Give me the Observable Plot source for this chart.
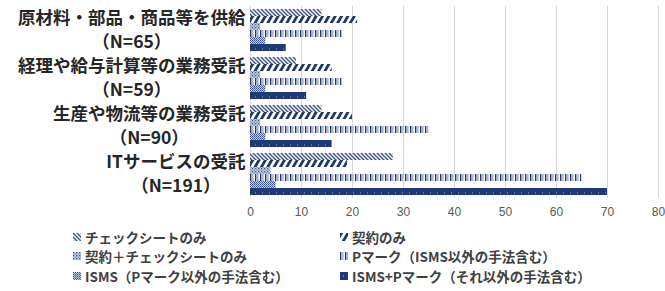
<!DOCTYPE html>
<html><head><meta charset="utf-8">
<script src="https://cdn.jsdelivr.net/npm/d3@7"></script>
<script src="https://cdn.jsdelivr.net/npm/@observablehq/plot@0.6"></script>
<style>
body{margin:0;background:#fff;font-family:"Noto Sans CJK JP","Liberation Sans",sans-serif;}
#wrap{position:relative;width:665px;height:291px;overflow:hidden;}
#legend{position:absolute;left:73px;top:227px;display:grid;grid-template-columns:267px 320px;grid-auto-rows:19.5px;font-size:13.5px;font-weight:bold;color:#404040;}
.item{display:flex;align-items:center;white-space:nowrap;}
.item svg{margin-right:4px;flex:none;}
</style>
</head><body>
<svg width="0" height="0" style="position:absolute">
<defs>
<pattern id="p0" width="4" height="4" patternUnits="userSpaceOnUse">
<rect width="4" height="4" fill="#fff"/>
<path d="M-1,-1 L5,5 M-1,3 L1,5 M3,-1 L5,1" stroke="#3a5192" stroke-width="1.4"/>
</pattern>
<pattern id="p1" width="5.5" height="6" patternUnits="userSpaceOnUse" patternTransform="rotate(30)">
<rect width="5.5" height="6" fill="#fff"/><rect width="2.8" height="6" fill="#1f3864"/>
</pattern>
<pattern id="p2" width="3" height="3" patternUnits="userSpaceOnUse">
<rect width="3" height="3" fill="#c9d1e6"/>
<rect x="0" y="0" width="1.3" height="1.3" fill="#3a5192"/>
<rect x="1.5" y="1.5" width="1.3" height="1.3" fill="#6b7fb5"/>
</pattern>
<pattern id="p3" width="5" height="4" patternUnits="userSpaceOnUse">
<rect width="5" height="4" fill="#fff"/>
<rect x="0" width="1.4" height="4" fill="#1f3864"/>
<rect x="2.4" width="1" height="4" fill="#7383b8"/>
</pattern>
<pattern id="p4" width="2" height="2" patternUnits="userSpaceOnUse">
<rect width="2" height="2" fill="#c3cbe0"/>
<rect width="1" height="1" fill="#3a5192"/>
<rect x="1" y="1" width="1" height="1" fill="#5a6ea6"/>
</pattern>
<pattern id="p5" width="7" height="7.5" patternUnits="userSpaceOnUse">
<rect width="7" height="7.5" fill="#1f3877"/>
<rect x="3" y="3.3" width="1" height="1" fill="#a8b6dc"/>
</pattern>
</defs>
</svg>
<div id="wrap"><div id="chart"></div><div id="legend"></div></div>
<script>
const categories = ["原材料・部品・商品等を供給", "経理や給与計算等の業務受託", "生産や物流等の業務受託", "ITサービスの受託"];
const nLabels = ["（N=65）", "（N=59）", "（N=90）", "（N=191）"];
const series = ["チェックシートのみ", "契約のみ", "契約＋チェックシートのみ", "Pマーク（ISMS以外の手法含む）", "ISMS（Pマーク以外の手法含む）", "ISMS+Pマーク（それ以外の手法含む）"];
const checkOnly     = [14, 9, 14, 28];
const contractOnly  = [21, 16, 20, 19];
const contractCheck = [2, 2, 2, 4];
const pmark         = [18, 18, 35, 65];
const isms          = [3, 3, 3, 5];
const ismsP         = [7, 11, 16, 70];
const xTicks = [0, 10, 20, 30, 40, 50, 60, 70, 80];

const seriesValues = [checkOnly, contractOnly, contractCheck, pmark, isms, ismsP];
const patterns = ["url(#p0)", "url(#p1)", "url(#p2)", "url(#p3)", "url(#p4)", "url(#p5)"];

const labelFont = "bold 17.5px 'Noto Sans CJK JP'";
const ctx = document.createElement("canvas").getContext("2d");
ctx.font = labelFont;

const barMarks = series.map((s, si) =>
  Plot.barX(categories.map((c, ci) => ({cat: c, s, v: seriesValues[si][ci]})),
    {fy: "cat", y: "s", x: "v", fill: patterns[si]}));

const labelMarks = [];
categories.forEach((c, ci) => {
  const w = ctx.measureText(c).width;
  labelMarks.push(Plot.text([c], {fy: d => d, text: d => d, frameAnchor: "left", textAnchor: "end", dx: -5, dy: -12,
    fontSize: 17.5, fontWeight: "bold", fill: "#262626", fontFamily: "Noto Sans CJK JP"}));
  labelMarks.push(Plot.text([c], {fy: d => d, text: () => nLabels[ci], frameAnchor: "left", textAnchor: "middle", dx: -5 - w / 2, dy: 12,
    fontSize: 17.5, fontWeight: "bold", fill: "#262626", fontFamily: "Noto Sans CJK JP"}));
});

const chart = Plot.plot({
  width: 665, height: 222,
  marginLeft: 250, marginRight: 7, marginTop: 6, marginBottom: 24,
  style: {fontFamily: "'Liberation Sans', Arial, sans-serif", background: "#fff"},
  x: {domain: [0, 80], ticks: xTicks, tickSize: 0, tickPadding: 9, label: null},
  fy: {domain: categories, padding: 0, axis: null, label: null},
  y: {domain: series, axis: null, paddingInner: 0, paddingOuter: 0.22},
  marks: [
    Plot.ruleX(xTicks, {stroke: "#d9d9d9", strokeWidth: 1}),
    ...barMarks,
    ...labelMarks
  ]
});
chart.querySelectorAll('[aria-label="x-axis tick label"] text, g[aria-label="x-axis"] text').forEach(t => { t.setAttribute("fill", "#595959"); t.style.fontSize = "12px"; });
document.getElementById("chart").appendChild(chart);

const legend = document.getElementById("legend");
series.forEach((s, i) => {
  const item = document.createElement("div");
  item.className = "item";
  item.innerHTML = `<svg width="8" height="8"><rect width="8" height="8" fill="${patterns[i]}"/></svg><span>${s}</span>`;
  legend.appendChild(item);
});
</script>
</body></html>
